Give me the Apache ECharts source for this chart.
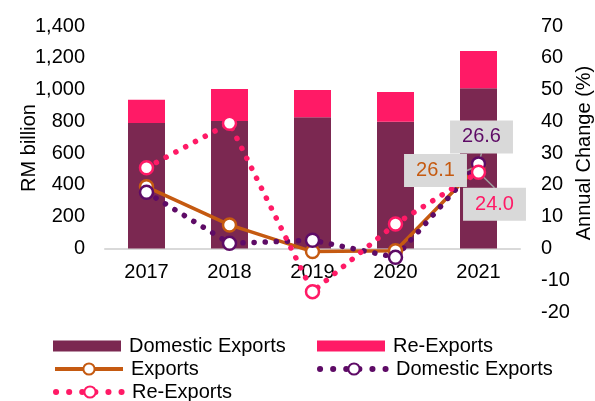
<!DOCTYPE html>
<html>
<head>
<meta charset="utf-8">
<script src="https://cdn.jsdelivr.net/npm/echarts@6/dist/echarts.min.js"></script>
<style>
html,body{margin:0;padding:0;background:#fff;}
#chart{width:595px;height:401px;}
</style>
</head>
<body>
<div id="chart"></div>
<script>
// ---- data ----
const years = ['2017', '2018', '2019', '2020', '2021'];
const domesticExportsRM = [789, 802, 825, 797, 1009];
const reExportsRM = [147, 201, 172, 187, 233];
const exportsGrowth = [19.4, 7.4, -1.0, -0.7, 26.1];
const domesticGrowth = [17.7, 1.6, 2.6, -2.8, 26.6];
const reExportsGrowth = [25.4, 39.4, -13.6, 7.7, 24.0];
const legendLabels = {
  barDom: 'Domestic Exports',
  barRe: 'Re-Exports',
  lineExp: 'Exports',
  lineDom: 'Domestic Exports',
  lineRe: 'Re-Exports'
};
const leftAxisTitle = 'RM billion';
const rightAxisTitle = 'Annual Change (%)';

// ---- styles ----
const FONT = "'Liberation Sans', Arial, sans-serif";
const C_DOM = '#7B2851';
const C_RE = '#FF1A66';
const C_EXP = '#C55A11';
const C_DOMLINE = '#5E0B66';
const LABEL_BG = '#D9D9D9';

const GRID_TOP = 26, GRID_BOTTOM = 89, CHART_H = 401;
const LEFT_MIN = -400, LEFT_MAX = 1400;
const plotH = CHART_H - GRID_TOP - GRID_BOTTOM;
const zeroOffset = -plotH * (0 - LEFT_MIN) / (LEFT_MAX - LEFT_MIN);

function lastLabelData(values, color) {
  return values.map((v, i) => i === values.length - 1 ? {
    value: v,
    label: {
      show: true,
      position: 'inside',
      formatter: (p) => p.value.toFixed(1),
      color: color,
      fontFamily: FONT,
      fontSize: 20,
      backgroundColor: LABEL_BG,
      padding: [7, 12, 6, 12]
    }
  } : v);
}

function lineSeries(name, values, color, dotted, layout) {
  return {
    name: name,
    type: 'line',
    yAxisIndex: 1,
    data: lastLabelData(values, color),
    symbol: 'circle',
    symbolSize: 13,
    showAllSymbol: true,
    lineStyle: dotted ? { color: color, width: 5.5, type: [0.1, 11], cap: 'round' } : { color: color, width: 3.5 },
    itemStyle: { color: '#fff', borderColor: color, borderWidth: 2.5 },
    labelLayout: layout,
    labelLine: { show: true, lineStyle: { color: '#A0A0A0', width: 1.5 } },
    emphasis: { disabled: true },
    z: 3
  };
}

function legendItem(name, left, top, kind) {
  const lg = {
    left: left, top: top, padding: 0,
    data: [kind === 'bar' ? { name: name, icon: 'rect' } : { name: name }],
    itemWidth: 68, itemHeight: kind === 'bar' ? 11 : 14, itemGap: 0,
    formatter: (n) => legendLabels[n],
    textStyle: { fontFamily: FONT, fontSize: 20, color: '#000', lineHeight: 20, padding: [0, 0, 0, 3] },
    selectedMode: false
  };
  if (kind === 'solid') lg.lineStyle = { width: 4 };
  if (kind === 'dotted') lg.lineStyle = { width: 6, type: [0.1, 13], cap: 'round' };
  return lg;
}

const chart = echarts.init(document.getElementById('chart'), null, { renderer: 'canvas' });
chart.setOption({
  animation: false,
  backgroundColor: '#fff',
  grid: { left: 105, right: 75, top: GRID_TOP, bottom: GRID_BOTTOM, containLabel: false },
  xAxis: {
    type: 'category',
    data: years,
    offset: zeroOffset,
    axisTick: { show: false },
    axisLine: { show: true, onZero: false, lineStyle: { color: '#D9D9D9', width: 2 } },
    axisLabel: { fontFamily: FONT, fontSize: 20, color: '#000', margin: 14 }
  },
  yAxis: [
    {
      type: 'value', min: LEFT_MIN, max: LEFT_MAX, interval: 200,
      splitLine: { show: false }, axisLine: { show: false }, axisTick: { show: false },
      axisLabel: {
        fontFamily: FONT, fontSize: 20, color: '#000', margin: 20,
        formatter: (v) => v < 0 ? '' : v.toLocaleString('en-US')
      }
    },
    {
      type: 'value', min: -20, max: 70, interval: 10,
      splitLine: { show: false }, axisLine: { show: false }, axisTick: { show: false },
      axisLabel: { fontFamily: FONT, fontSize: 20, color: '#000', margin: 21 }
    }
  ],
  legend: [
    legendItem('barDom', 53, 336, 'bar'),
    legendItem('barRe', 317, 336, 'bar'),
    legendItem('lineExp', 53, 359, 'solid'),
    legendItem('lineDom', 317, 359, 'dotted'),
    legendItem('lineRe', 53, 382, 'dotted')
  ],
  graphic: [
    { type: 'text', x: 29, y: 148, rotation: Math.PI / 2,
      style: { text: leftAxisTitle, font: "20px 'Liberation Sans', Arial, sans-serif", fill: '#000', align: 'center', verticalAlign: 'middle' } },
    { type: 'text', x: 584, y: 153, rotation: Math.PI / 2,
      style: { text: rightAxisTitle, font: "20px 'Liberation Sans', Arial, sans-serif", fill: '#000', align: 'center', verticalAlign: 'middle' } }
  ],
  series: [
    { name: 'barDom', type: 'bar', stack: 'rm', data: domesticExportsRM, barWidth: 37,
      itemStyle: { color: C_DOM }, emphasis: { disabled: true }, z: 2 },
    { name: 'barRe', type: 'bar', stack: 'rm', data: reExportsRM, barWidth: 37,
      itemStyle: { color: C_RE }, emphasis: { disabled: true }, z: 2 },
    lineSeries('lineExp', exportsGrowth, C_EXP, false, { dx: -43, dy: 5 }),
    lineSeries('lineDom', domesticGrowth, C_DOMLINE, true, { dx: 3, dy: -27 }),
    lineSeries('lineRe', reExportsGrowth, C_RE, true, { dx: 16, dy: 32 })
  ]
});
</script>
</body>
</html>
